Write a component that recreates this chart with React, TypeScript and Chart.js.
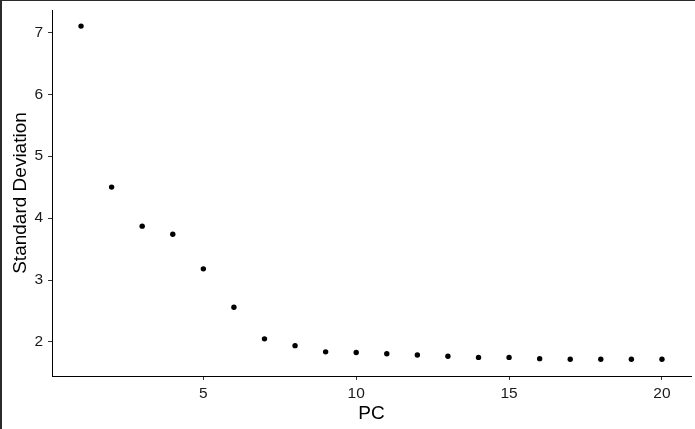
import React, { useEffect, useRef } from "react";
import { Chart, registerables } from "chart.js";

Chart.register(...registerables);

const pcs = [1, 2, 3, 4, 5, 6, 7, 8, 9, 10, 11, 12, 13, 14, 15, 16, 17, 18, 19, 20];
const stdev = [7.1, 4.5, 3.87, 3.74, 3.18, 2.56, 2.05, 1.94, 1.84, 1.83, 1.81, 1.79, 1.77, 1.75, 1.75, 1.73, 1.72, 1.72, 1.72, 1.72];
const xTicks = [5, 10, 15, 20];
const yTicks = [2, 3, 4, 5, 6, 7];
const xTitle = "PC";
const yTitle = "Standard Deviation";

export default function App() {
  const ref = useRef<HTMLCanvasElement | null>(null);

  useEffect(() => {
    document.body.style.margin = "0";
    const canvas = ref.current;
    if (!canvas) return;
    const font = "'Liberation Sans', Arial, sans-serif";
    const chart = new Chart(canvas, {
      type: "scatter",
      data: {
        datasets: [
          {
            data: pcs.map((x, i) => ({ x, y: stdev[i] })),
            backgroundColor: "#000000",
            borderColor: "#000000",
            pointRadius: 2.7,
            pointBorderWidth: 0,
          },
        ],
      },
      options: {
        animation: false,
        responsive: false,
        maintainAspectRatio: false,
        layout: { padding: { left: 3, top: 10, right: 2, bottom: 0 } },
        plugins: { legend: { display: false }, tooltip: { enabled: false } },
        scales: {
          x: {
            type: "linear",
            min: 0.05,
            max: 20.95,
            afterBuildTicks: (s: any) => {
              s.ticks = xTicks.map((v) => ({ value: v }));
            },
            afterFit: (s: any) => {
              s.height = 53;
              s.paddingLeft = 0;
              s.paddingRight = 0;
            },
            grid: { drawOnChartArea: false, drawTicks: true, tickLength: 4, tickColor: "#333333", tickWidth: 1 },
            border: { display: true, color: "#000000", width: 1 },
            ticks: { color: "#1a1a1a", padding: 4, font: { family: font, size: 15.5 }, maxRotation: 0 },
            title: { display: true, text: xTitle, color: "#000000", font: { family: font, size: 19 }, padding: { top: 0, bottom: 4 } },
          },
          y: {
            type: "linear",
            min: 1.45,
            max: 7.36,
            afterBuildTicks: (s: any) => {
              s.ticks = yTicks.map((v) => ({ value: v }));
            },
            afterFit: (s: any) => {
              s.width = 49;
              s.paddingTop = 0;
              s.paddingBottom = 0;
            },
            grid: { drawOnChartArea: false, drawTicks: true, tickLength: 4, tickColor: "#333333", tickWidth: 1 },
            border: { display: true, color: "#000000", width: 1 },
            ticks: { color: "#1a1a1a", padding: 5, font: { family: font, size: 15.5 } },
            title: { display: true, text: yTitle, color: "#000000", font: { family: font, size: 19 }, padding: { top: 6, bottom: 0 } },
          },
        },
      },
    });
    return () => chart.destroy();
  }, []);

  return (
    <div style={{ position: "relative", width: 695, height: 429, background: "#ffffff" }}>
      <canvas ref={ref} width={695} height={429} style={{ display: "block", width: 695, height: 429 }} />
      <div style={{ position: "absolute", left: 0, top: 0, width: 2, height: 429, background: "#2b2b2b" }} />
      <div style={{ position: "absolute", left: 0, top: 0, width: 695, height: 1, background: "#2b2b2b" }} />
    </div>
  );
}
